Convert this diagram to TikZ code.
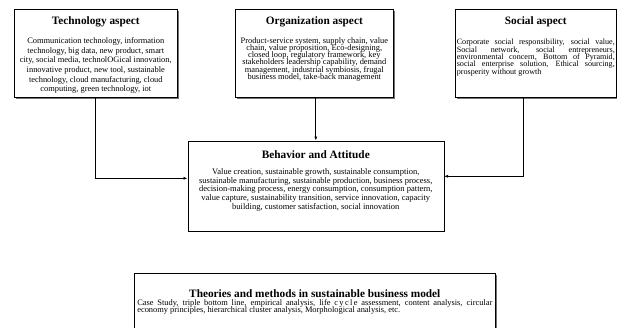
\documentclass[tikz,border=0pt]{standalone}
\usepackage{fontspec}
\setmainfont{Liberation Serif}
\usetikzlibrary{positioning, shapes, arrows.meta, shadows}

\newcommand{\sbmbox}[6]{%
\begin{minipage}[t][#2][t]{#1}%
\lineskiplimit=-100pt\parindent=0pt%
\vspace*{#3}%
{\centering\fontsize{11.3}{13}\selectfont\bfseries #4\par}%
\vspace{#5}%
#6\par
\end{minipage}}

\begin{document}
\begin{tikzpicture}[x=1pt,y=-1pt]
\tikzstyle{aspect}=[draw, line width=0.6pt, fill=white, inner sep=0pt, anchor=north west,
  drop shadow={shadow xshift=1.2pt, shadow yshift=-1.2pt, fill=black!55, opacity=1}]
\tikzstyle{conn}=[line width=0.7pt, -{Latex[length=4pt,width=3pt]}]
\useasboundingbox (0,0) rectangle (617,327);
\path (14,9) node[aspect] (tech) {\sbmbox{163pt}{88pt}{7pt}{Technology aspect}{9.5pt}{%
\fontsize{8.4}{9.7}\selectfont\centering
Communication technology, information\\
technology, big data, new product, smart\\
city, social media, technolOGical innovation,\\
innovative product, new tool, sustainable\\
technology, cloud manufacturing, cloud\\
computing, green technology, iot}};
\path (235,9) node[aspect] (org) {\sbmbox{158pt}{88pt}{7pt}{Organization aspect}{12pt}{%
\fontsize{8.4}{7.2}\selectfont\centering
Product-service system, supply chain, value\\
chain, value proposition, Eco-designing,\\
closed loop, regulatory framework, key\\
stakeholders leadership capability, demand\\
management, industrial symbiosis, frugal\\
business model, take-back management}};
\path (455,9) node[aspect] (social) {\sbmbox{161pt}{88pt}{7pt}{Social aspect}{13.5pt}{%
\fontsize{8.1}{7.3}\selectfont\leftskip=1.5pt\rightskip=1.5pt
Corporate social responsibility, social value,\linebreak
Social network, social entrepreneurs,\linebreak
environmental concern, Bottom of Pyramid,\linebreak
social enterprise solution, Ethical sourcing,\linebreak
prosperity without growth}};
\path (187.5,140.5) node[aspect] (behav) {\sbmbox{256pt}{90pt}{10pt}{Behavior and Attitude}{7.5pt}{%
\fontsize{8.5}{8.6}\selectfont\centering
Value creation, sustainable growth, sustainable consumption,\\
sustainable manufacturing, sustainable production, business process,\\
decision-making process, energy consumption, consumption pattern,\\
value capture, sustainability transition, service innovation, capacity\\
building, customer satisfaction, social innovation}};
\path (134,273) node[aspect] (theory) {\sbmbox{361pt}{62pt}{16pt}{Theories and methods in sustainable business model}{1.2pt}{%
\fontsize{8.4}{7.3}\selectfont\leftskip=3pt\rightskip=3pt
Case Study, triple bottom line, empirical analysis, life c\,y\,c\,l\,e assessment, content analysis, circular\linebreak
economy principles, hierarchical cluster analysis, Morphological analysis, etc.}};
\draw [conn] (tech.south) |- ([yshift=7.5pt]behav.west);
\draw [conn] (behav.north |- org.south) -- (behav.north);
\draw [conn] ([xshift=-12pt]social.south) |- ([yshift=9.5pt]behav.east);
\end{tikzpicture}
\end{document}
